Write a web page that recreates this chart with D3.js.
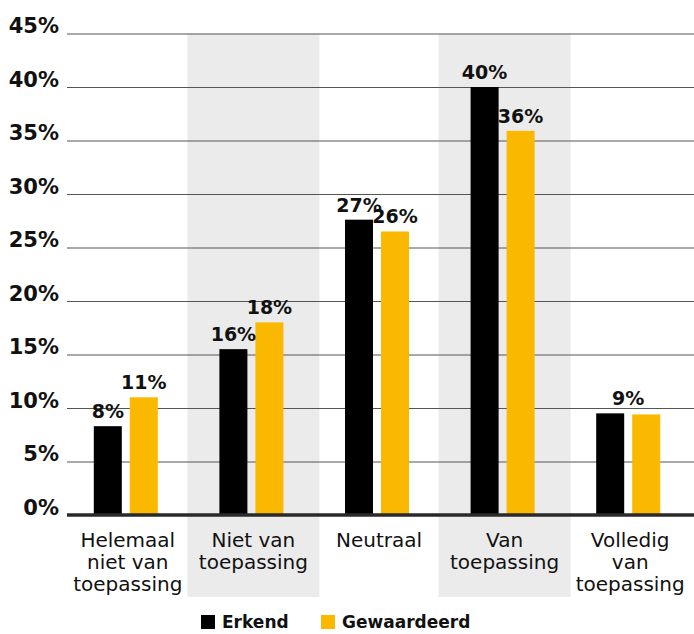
<!DOCTYPE html>
<html>
<head>
<meta charset="utf-8">
<script src="https://cdn.jsdelivr.net/npm/d3@7"></script>
<style>
  body { margin: 0; background: #fff; }
  svg { display: block; font-family: "DejaVu Sans", sans-serif; }
</style>
</head>
<body>
<div id="chart"></div>
<script>
// data
var categories = ["Helemaal niet van toepassing", "Niet van toepassing", "Neutraal", "Van toepassing", "Volledig van toepassing"];
var categoryLines = [["Helemaal", "niet van", "toepassing"], ["Niet van", "toepassing"], ["Neutraal"], ["Van", "toepassing"], ["Volledig", "van", "toepassing"]];
var series = ["Erkend", "Gewaardeerd"];
var erkend = [8.3, 15.5, 27.6, 40.0, 9.5];
var gewaardeerd = [11.0, 18.0, 26.5, 35.9, 9.4];
var erkendLabels = ["8%", "16%", "27%", "40%", "9%"];
var gewaardeerdLabels = ["11%", "18%", "26%", "36%", null];
var yTicks = [0, 5, 10, 15, 20, 25, 30, 35, 40, 45];
var shaded = ["Niet van toepassing", "Van toepassing"];

var W = 694, H = 634;
var colors = {Erkend: "#000000", Gewaardeerd: "#fab800"};

var svg = d3.select("#chart").append("svg").attr("width", W).attr("height", H);

var y = d3.scaleLinear().domain([0, 45]).range([515, 33.5]);
var x0 = d3.scaleBand().domain(categories).range([63, 691]);
var x1 = d3.scaleBand().domain(series).range([-32, 32]).paddingInner(2 - 64 / 36);

// shaded bands
svg.append("g").selectAll("rect")
    .data(shaded)
    .enter().append("rect")
    .attr("x", function(d){ return x0(d) + x0.bandwidth() / 2 - 64; })
    .attr("y", y(45))
    .attr("width", 132)
    .attr("height", 597 - y(45))
    .attr("fill", "#ebebeb");

// grid + tick labels
var yAxis = svg.append("g")
    .attr("transform", "translate(67,0)")
    .call(d3.axisLeft(y).tickValues(yTicks).tickSize(-(W - 67)).tickPadding(8)
        .tickFormat(function(d){ return d + "%"; }));
yAxis.select(".domain").remove();
yAxis.selectAll(".tick line").attr("stroke", "#555").attr("stroke-width", 1);
yAxis.selectAll(".tick text")
    .attr("dy", 0).attr("y", -1)
    .attr("fill", "#111")
    .style("font-size", "21px").style("font-weight", "bold")
    .style("font-family", "DejaVu Sans, sans-serif");

// bars
var rows = categories.map(function(c, i){
    return {cat: c, values: [
        {key: "Erkend", value: erkend[i], label: erkendLabels[i]},
        {key: "Gewaardeerd", value: gewaardeerd[i], label: gewaardeerdLabels[i]}
    ]};
});

var groups = svg.append("g").selectAll("g")
    .data(rows)
    .enter().append("g")
    .attr("transform", function(d){ return "translate(" + (x0(d.cat) + x0.bandwidth() / 2) + ",0)"; });

groups.selectAll("rect")
    .data(function(d){ return d.values; })
    .enter().append("rect")
    .attr("x", function(d){ return x1(d.key); })
    .attr("y", function(d){ return y(d.value); })
    .attr("width", x1.bandwidth())
    .attr("height", function(d){ return y(0) - y(d.value); })
    .attr("fill", function(d){ return colors[d.key]; });

groups.selectAll("text.val")
    .data(function(d){
        var lone = d.values.filter(function(v){ return v.label; }).length === 1;
        return d.values.filter(function(v){ return v.label; }).map(function(v){
            return {v: v, lone: lone, top: d3.max(d.values, function(e){ return e.value; })};
        });
    })
    .enter().append("text")
    .attr("class", "val")
    .attr("x", function(d){ return d.lone ? 0 : x1(d.v.key) + x1.bandwidth() / 2; })
    .attr("y", function(d){ return y(d.lone ? d.top : d.v.value) - 8; })
    .attr("text-anchor", "middle")
    .attr("fill", "#111")
    .style("font-size", "19px").style("font-weight", "bold")
    .text(function(d){ return d.v.label; });

// baseline
svg.append("line")
    .attr("x1", 67).attr("x2", W)
    .attr("y1", y(0)).attr("y2", y(0))
    .attr("stroke", "#2a2a2a").attr("stroke-width", 3.5);

// category labels
var catLabels = svg.append("g").selectAll("text")
    .data(categories)
    .enter().append("text")
    .attr("x", function(d){ return x0(d) + x0.bandwidth() / 2 + 2; })
    .attr("y", 547)
    .attr("text-anchor", "middle")
    .attr("fill", "#111")
    .style("font-size", "20px");
catLabels.selectAll("tspan")
    .data(function(d, i){ return categoryLines[i]; })
    .enter().append("tspan")
    .attr("x", function(){ return d3.select(this.parentNode).attr("x"); })
    .attr("dy", function(d, i){ return i ? 22 : 0; })
    .text(function(d){ return d; });

// legend
var legendX = [201, 321];
var legend = svg.append("g").selectAll("g")
    .data(series)
    .enter().append("g")
    .attr("transform", function(d, i){ return "translate(" + legendX[i] + ",615)"; });
legend.append("rect").attr("width", 14).attr("height", 14)
    .attr("fill", function(d){ return colors[d]; });
legend.append("text")
    .attr("x", 21).attr("y", 13)
    .attr("fill", "#111")
    .style("font-size", "17px").style("font-weight", "bold")
    .text(function(d){ return d; });
</script>
</body>
</html>
